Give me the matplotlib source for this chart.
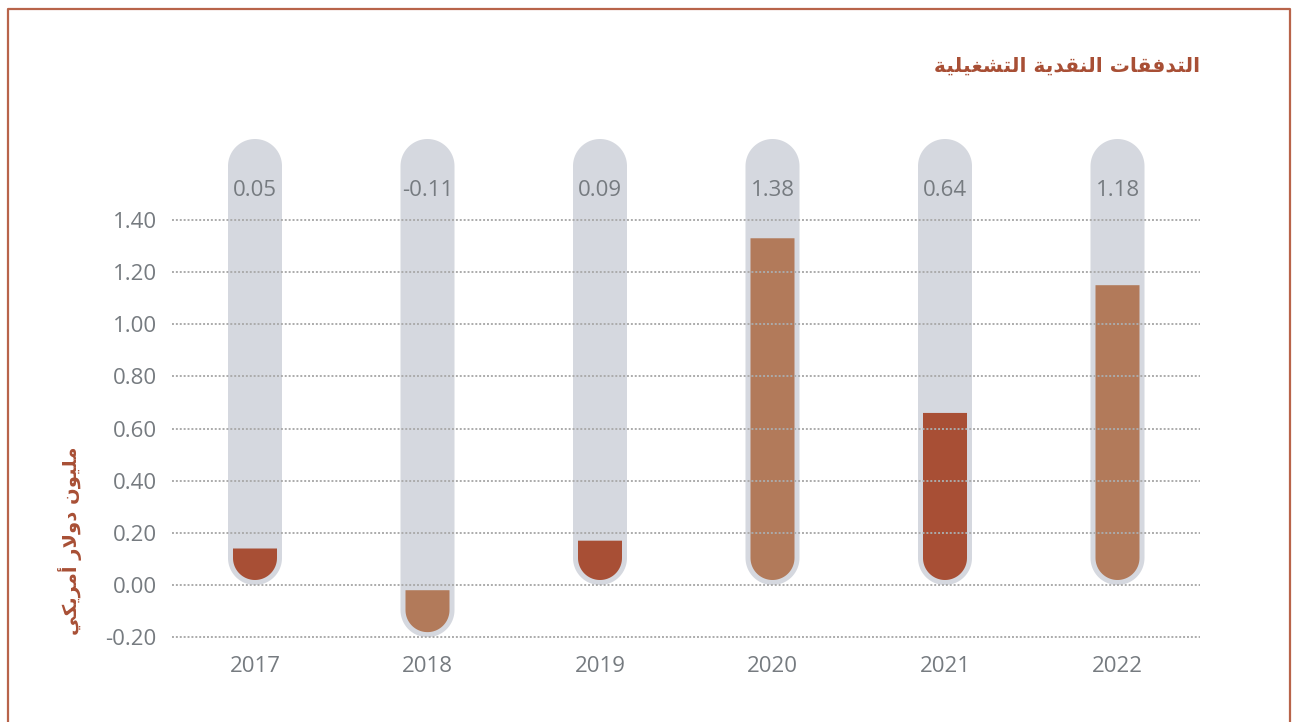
import numpy as np
import matplotlib
matplotlib.use("Agg")
import matplotlib.pyplot as plt
from matplotlib.patches import Polygon
from matplotlib.lines import Line2D

# data
years = ["2017", "2018", "2019", "2020", "2021", "2022"]
value_labels = [0.05, -0.11, 0.09, 1.38, 0.64, 1.18]
bar_tops = [0.14, -0.02, 0.17, 1.33, 0.66, 1.15]   # heights as drawn in the picture
y_ticks = [-0.20, 0.00, 0.20, 0.40, 0.60, 0.80, 1.00, 1.20, 1.40]

title = "التدفقات النقدية التشغيلية"
y_label = "مليون دولار أمريكي"

BROWN = "#a84f35"
LIGHT = "#b27a5a"
TUBE = "#d5d8df"
GREY_TXT = "#767b80"
GRID = "#ababab"

# ---- tiny arabic shaper (matplotlib has no complex text layout) ----
FORMS = {  # iso, fin, ini, med
    "ا": (0xFE8D, 0xFE8E, None, None),
    "أ": (0xFE83, 0xFE84, None, None),
    "د": (0xFEA9, 0xFEAA, None, None),
    "ر": (0xFEAD, 0xFEAE, None, None),
    "و": (0xFEED, 0xFEEE, None, None),
    "ة": (0xFE93, 0xFE94, None, None),
    "ل": (0xFEDD, 0xFEDE, 0xFEDF, 0xFEE0),
    "ت": (0xFE95, 0xFE96, 0xFE97, 0xFE98),
    "ف": (0xFED1, 0xFED2, 0xFED3, 0xFED4),
    "ق": (0xFED5, 0xFED6, 0xFED7, 0xFED8),
    "ن": (0xFEE5, 0xFEE6, 0xFEE7, 0xFEE8),
    "ي": (0xFEF1, 0xFEF2, 0xFEF3, 0xFEF4),
    "ش": (0xFEB5, 0xFEB6, 0xFEB7, 0xFEB8),
    "غ": (0xFECD, 0xFECE, 0xFECF, 0xFED0),
    "م": (0xFEE1, 0xFEE2, 0xFEE3, 0xFEE4),
    "ك": (0xFED9, 0xFEDA, 0xFEDB, 0xFEDC),
}
LAM_ALEF = {"ا": (0xFEFB, 0xFEFC), "أ": (0xFEF7, 0xFEF8)}


def dual(c):
    return c in FORMS and FORMS[c][2] is not None


def shape(text):
    chars = list(text)
    out = []
    i = 0
    while i < len(chars):
        c = chars[i]
        prev = chars[i - 1] if i > 0 else " "
        joins_prev = dual(prev) and c in FORMS
        if c == "ل" and i + 1 < len(chars) and chars[i + 1] in LAM_ALEF:
            iso, fin = LAM_ALEF[chars[i + 1]]
            out.append(chr(fin if joins_prev else iso))
            i += 2
            continue
        if c not in FORMS:
            out.append(c)
            i += 1
            continue
        nxt = chars[i + 1] if i + 1 < len(chars) else " "
        joins_next = dual(c) and nxt in FORMS
        iso, fin, ini, med = FORMS[c]
        if joins_prev and joins_next:
            g = med
        elif joins_prev:
            g = fin
        elif joins_next:
            g = ini
        else:
            g = iso
        out.append(chr(g))
        i += 1
    return "".join(reversed(out))


# ---- figure geometry (pixels of the 1293x722 reference) ----
W, H = 1293, 722
ppu = 260.7            # pixels per unit on y
zero_px = H - 585      # y=0 measured from bottom
ylo, yhi = -0.22, 1.75
x_px0, x_px1 = 172, 1200
step_px = 172.5
first_px = 255
xlo = -(first_px - x_px0) / step_px
xhi = xlo + (x_px1 - x_px0) / step_px

fig = plt.figure(figsize=(W / 100, H / 100), dpi=100)
fig.patch.set_facecolor("white")
ax = fig.add_axes([x_px0 / W, (zero_px + ylo * ppu) / H,
                   (x_px1 - x_px0) / W, (yhi - ylo) * ppu / H])
ax.set_xlim(xlo, xhi)
ax.set_ylim(ylo, yhi)
for s in ax.spines.values():
    s.set_visible(False)


def capsule(xc, half_px, y_bot, y_top, round_top):
    rx = half_px / step_px
    ry = half_px / ppu
    t = np.linspace(np.pi, 2 * np.pi, 40)
    xs = list(xc + rx * np.cos(t))
    ys = list(y_bot + ry + ry * np.sin(t))
    if round_top:
        t2 = np.linspace(0, np.pi, 40)
        xs += list(xc + rx * np.cos(t2))
        ys += list(y_top - ry + ry * np.sin(t2))
    else:
        xs += [xc + rx, xc - rx]
        ys += [y_top, y_top]
    return np.column_stack([xs, ys])


tube_top = (H - 139 - zero_px) / ppu
for i, (top, lab) in enumerate(zip(bar_tops, value_labels)):
    bottom = 0.0 if lab >= 0 else y_ticks[0]
    ax.add_patch(Polygon(capsule(i, 27, bottom, tube_top, True),
                         closed=True, facecolor=TUBE, edgecolor="none", zorder=1))
    color = BROWN if i % 2 == 0 else LIGHT
    ax.add_patch(Polygon(capsule(i, 22, bottom + 5 / ppu, top, False),
                         closed=True, facecolor=color, edgecolor="none", zorder=2))
    ax.text(i, (H - 190 - zero_px) / ppu, f"{lab:.2f}", ha="center", va="center",
            fontsize=16, color=GREY_TXT, family="Open Sans", zorder=4)

for yv in y_ticks:
    ax.axhline(yv, color=GRID, lw=1.4, linestyle=(0, (1, 1)), zorder=3)

ax.set_yticks(y_ticks)
ax.set_yticklabels([f"{v:.2f}" for v in y_ticks], family="Open Sans",
                   fontsize=16, color=GREY_TXT)
ax.set_xticks(range(len(years)))
ax.set_xticklabels(years, family="Open Sans", fontsize=16, color=GREY_TXT)
ax.tick_params(axis="y", length=0, pad=11)
ax.tick_params(axis="x", length=0, pad=10)

# titles
fig.text(1200 / W, 1 - 66 / H, shape(title), ha="right", va="center",
         fontsize=14.5, fontweight="bold", color=BROWN, family="DejaVu Sans")
fig.text(70 / W, 1 - 541 / H, shape(y_label), ha="center", va="center",
         rotation=90, fontsize=14, fontweight="bold", color=BROWN,
         family="DejaVu Sans")

# frame (left, top, right)
fx0, fx1, fy = 7.5 / W, 1290 / W, 1 - 8.5 / H
fig.add_artist(Line2D([fx0, fx0, fx1, fx1], [0, fy, fy, 0],
                      transform=fig.transFigure, color="#b8644a", lw=1.6))

fig.savefig("out.png", dpi=100)
